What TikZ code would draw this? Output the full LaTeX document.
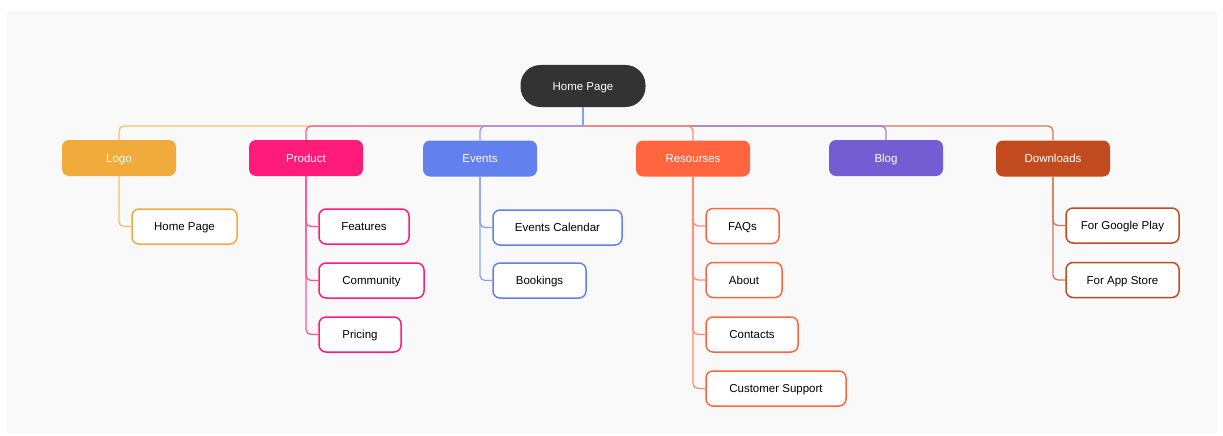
\documentclass[tikz,border=0pt]{standalone}
\usepackage{fontspec}
\setmainfont{Liberation Sans}
\definecolor{bgc}{HTML}{F9F9F9}
\definecolor{rootc}{HTML}{333333}
\definecolor{cLogo}{HTML}{F0AB3C}
\definecolor{cProd}{HTML}{FF1B7A}
\definecolor{cEvt}{HTML}{6281EE}
\definecolor{cRes}{HTML}{FF6640}
\definecolor{cBlog}{HTML}{745CD3}
\definecolor{cDl}{HTML}{C24A1F}
\begin{document}
\begin{tikzpicture}[x=1pt,y=-1pt,
  txt/.style={font=\fontsize{11.5}{13}\selectfont, text height=10pt, text depth=1.5pt},
  rootbox/.style={txt, fill=rootc, text=white, rounded corners=20pt, minimum width=125pt, minimum height=42pt, inner sep=0pt},
  topbox/.style={txt, fill=#1, text=white, rounded corners=7pt, minimum width=114pt, minimum height=36pt, inner sep=0pt},
  subbox/.style={txt, fill=white, draw=#1, line width=1.5pt, text=black, rounded corners=7pt, minimum height=35pt, inner sep=0pt},
  link/.style={draw=#1!75!white, line width=1.3pt, rounded corners=5pt}
]
\useasboundingbox (0,0) rectangle (1223,436);
\fill[bgc] (7,11) rectangle (1217,433);

% root
\node[rootbox] (root) at (583,86) {Home Page};
\coordinate (bus) at (583,126);

% top level
\node[topbox=cLogo] (logo) at (119,158) {Logo};
\node[topbox=cProd] (prod) at (306,158) {Product};
\node[topbox=cEvt] (evt) at (480,158.5) {Events};
\node[topbox=cRes] (res) at (693,158.5) {Resourses};
\node[topbox=cBlog] (blog) at (886,158) {Blog};
\node[topbox=cDl] (dl) at (1053,158.5) {Downloads};

% children
\node[subbox=cLogo, minimum width=105pt] (lhome) at (184.5,226.5) {Home Page};
\node[subbox=cProd, minimum width=90pt] (feat) at (364,226.5) {Features};
\node[subbox=cProd, minimum width=105pt] (comm) at (371.5,280.5) {Community};
\node[subbox=cProd, minimum width=82pt] (pric) at (360,334.5) {Pricing};
\node[subbox=cEvt, minimum width=129pt] (cal) at (557.5,227.5) {Events Calendar};
\node[subbox=cEvt, minimum width=93pt] (book) at (539.5,280.5) {Bookings};
\node[subbox=cRes, minimum width=73pt] (faq) at (742.5,226) {FAQs};
\node[subbox=cRes, minimum width=76pt] (about) at (744,280) {About};
\node[subbox=cRes, minimum width=92pt] (cont) at (752,334.5) {Contacts};
\node[subbox=cRes, minimum width=140pt] (cust) at (776,388.5) {Customer Support};
\node[subbox=cDl, minimum width=113pt] (gp) at (1122.5,225.5) {For Google Play};
\node[subbox=cDl, minimum width=113pt] (as) at (1122.5,280) {For App Store};

% bus connectors (outermost first, so inner ones lie on top)
\draw[link=cLogo] (bus) -| (logo.north);
\draw[link=cDl] (bus) -| (dl.north);
\draw[link=cProd] (bus) -| (prod.north);
\draw[link=cBlog] (bus) -| (blog.north);
\draw[link=cEvt] (bus) -| (evt.north);
\draw[link=cRes] (bus) -| (res.north);
\draw[link=cEvt] (root.south) -- (bus);

% child connectors
\draw[link=cLogo] (logo.south) |- (lhome.west);
\draw[link=cProd] (prod.south) |- (feat.west);
\draw[link=cProd] (prod.south) |- (comm.west);
\draw[link=cProd] (prod.south) |- (pric.west);
\draw[link=cEvt] (evt.south) |- (cal.west);
\draw[link=cEvt] (evt.south) |- (book.west);
\draw[link=cRes] (res.south) |- (faq.west);
\draw[link=cRes] (res.south) |- (about.west);
\draw[link=cRes] (res.south) |- (cont.west);
\draw[link=cRes] (res.south) |- (cust.west);
\draw[link=cDl] (dl.south) |- (gp.west);
\draw[link=cDl] (dl.south) |- (as.west);
\end{tikzpicture}
\end{document}
